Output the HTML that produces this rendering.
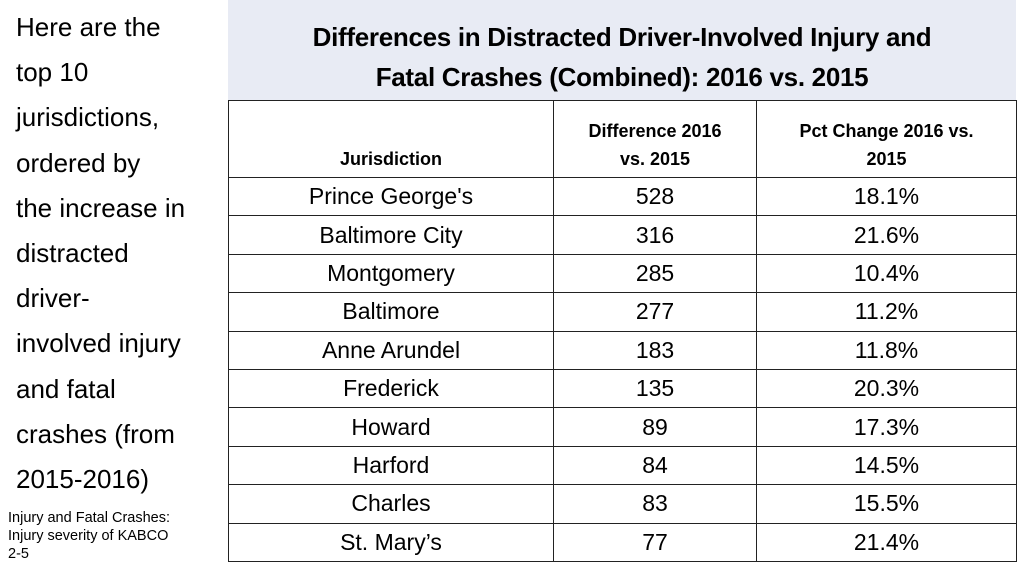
<!DOCTYPE html>
<html><head><meta charset="utf-8"><style>
body{margin:0;width:1024px;height:576px;background:#fff;position:relative;overflow:hidden;font-family:"Liberation Sans",sans-serif;color:#000}
#side{position:absolute;left:16px;top:5px;width:215px;font-size:26px;line-height:45.2px;white-space:nowrap}
#note{position:absolute;left:8px;top:509px;font-size:14.5px;line-height:18px}
#titlebox{position:absolute;left:228px;top:0;width:788px;height:100px;background:#e8ebf4;text-align:center;font-weight:bold;font-size:26px;line-height:40px;padding-top:17px;box-sizing:border-box;letter-spacing:-0.3px}
table{position:absolute;left:228px;top:100px;width:789px;border-collapse:collapse}
td,th{border:1.5px solid #222;text-align:center;padding:0}
th{font-size:18px;line-height:28px;height:72px;vertical-align:bottom;padding-bottom:4px}
td{font-size:23px;height:37.4px;line-height:37px}
</style></head><body>
<div id="side">Here are the<br>top 10<br>jurisdictions,<br>ordered by<br>the increase in<br>distracted<br>driver-<br>involved injury<br>and fatal<br>crashes (from<br>2015-2016)</div>
<div id="note">Injury and Fatal Crashes:<br>Injury severity of KABCO<br>2-5</div>
<div id="titlebox">Differences in Distracted Driver-Involved Injury and<br>Fatal Crashes (Combined): 2016 vs. 2015</div>
<table>
<tr><th style="width:324px">Jurisdiction</th><th style="width:202px">Difference 2016<br>vs. 2015</th><th>Pct Change 2016 vs.<br>2015</th></tr>
<tbody id="rows"></tbody>
</table>
<script>
const jurisdictions=["Prince George's","Baltimore City","Montgomery","Baltimore","Anne Arundel","Frederick","Howard","Harford","Charles","St. Mary’s"];
const differences=[528,316,285,277,183,135,89,84,83,77];
const pctChanges=["18.1%","21.6%","10.4%","11.2%","11.8%","20.3%","17.3%","14.5%","15.5%","21.4%"];
const tb=document.getElementById('rows');
jurisdictions.forEach((j,i)=>{
  const tr=document.createElement('tr');
  
  
  [j,differences[i],pctChanges[i]].forEach(v=>{
    const td=document.createElement('td');
    
    
    td.textContent=v;tr.appendChild(td);
  });
  tb.appendChild(tr);
});
</script>
</body></html>
